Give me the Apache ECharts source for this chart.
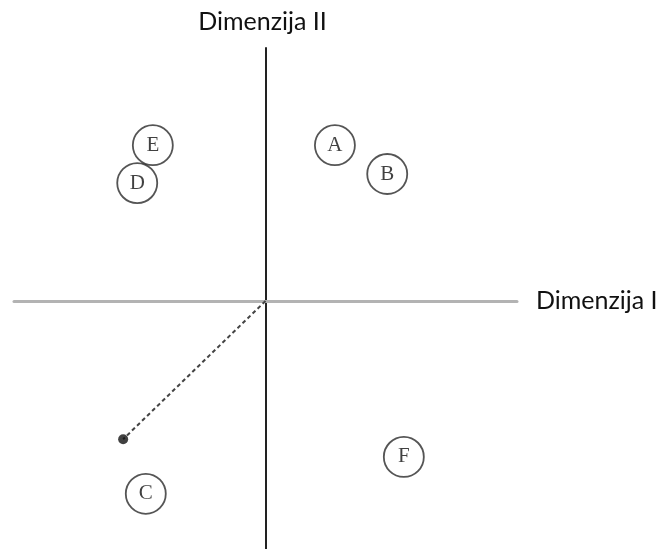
<!DOCTYPE html>
<html>
<head>
<meta charset="utf-8">
<script src="https://cdn.jsdelivr.net/npm/echarts@6/dist/echarts.min.js"></script>
<style>
  html, body { margin: 0; padding: 0; background: #fff; }
  #mybox { width: 662px; height: 549px; }
</style>
</head>
<body>
<div id="mybox"></div>
<script>
// 品牌位置（感知图）
var names = ['A', 'B', 'C', 'D', 'E', 'F'];
var xValues = [1.38, 2.42, -2.38, -2.55, -2.24, 2.75];
var yValues = [3.08, 2.51, -3.81, 2.33, 3.08, -3.08];
// 理想点
var idealPoint = [-2.83, -2.73];

var points = [];
for (var i = 0; i < names.length; i++) {
    points.push({ name: names[i], value: [xValues[i], yValues[i]] });
}

var mycharts = echarts.init(document.getElementById('mybox'));
var option = {
    animation: false,
    grid: { left: 14, right: 145, top: 48, bottom: 0 },
    xAxis: {
        type: 'value',
        min: -5,
        max: 5,
        name: 'Dimenzija I',
        nameLocation: 'end',
        nameGap: 19,
        nameTextStyle: { color: '#111', fontSize: 25, fontFamily: 'Lato', padding: [4, 0, 0, 0] },
        axisLine: { lineStyle: { color: '#b3b3b3', width: 3 } },
        axisTick: { show: false },
        axisLabel: { show: false },
        splitLine: { show: false }
    },
    yAxis: {
        type: 'value',
        min: -4.9,
        max: 5,
        name: 'Dimenzija II',
        nameLocation: 'end',
        nameGap: 14,
        nameTextStyle: { color: '#111', fontSize: 25, fontFamily: 'Lato', padding: [0, 6, 0, 0] },
        axisLine: { lineStyle: { color: '#222', width: 2 } },
        axisTick: { show: false },
        axisLabel: { show: false },
        splitLine: { show: false }
    },
    series: [
        {
            type: 'line',
            data: [[0, 0], idealPoint],
            showSymbol: false,
            lineStyle: { color: '#444', width: 2, type: [4, 3] },
            z: 1
        },
        {
            type: 'scatter',
            data: [idealPoint],
            symbolSize: 10,
            itemStyle: { color: '#111' },
            z: 2
        },
        {
            type: 'scatter',
            data: points,
            symbolSize: 40,
            itemStyle: { color: 'rgba(255,255,255,0)', borderColor: '#2a2a2a', borderWidth: 1.8 },
            label: {
                show: true,
                position: 'inside',
                formatter: '{b}',
                color: '#111',
                fontSize: 21,
                fontFamily: 'Liberation Serif'
            },
            z: 3
        }
    ]
};
mycharts.setOption(option);
</script>
</body>
</html>
